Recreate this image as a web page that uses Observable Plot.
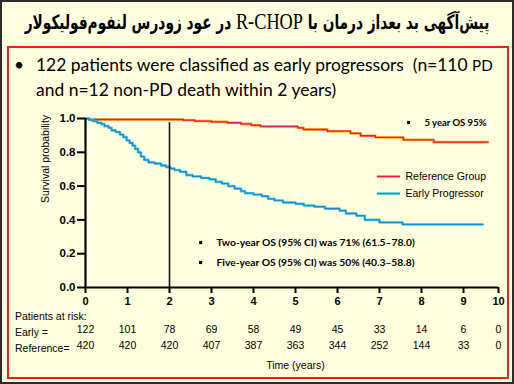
<!DOCTYPE html>
<html><head><meta charset="utf-8">
<script src="https://cdn.jsdelivr.net/npm/d3@7"></script>
<script src="https://cdn.jsdelivr.net/npm/@observablehq/plot@0.6"></script>
<style>
body{margin:0;background:#fff}
#page{position:relative;width:514px;height:384px;background:#ffffdf;overflow:hidden;font-family:"Liberation Sans",Arial,sans-serif;color:#000}
#outer{position:absolute;left:0;top:0;width:514px;height:384px;box-sizing:border-box;border:2px solid #2b2b2b;z-index:3;pointer-events:none}
#redbox{position:absolute;left:7px;top:46px;width:502px;height:333px;box-sizing:border-box;border:2px solid #e8231d;z-index:3;pointer-events:none}
#title{position:absolute;left:0;top:6px;width:514px;text-align:center;line-height:32px;white-space:nowrap}
#titletext{display:inline-block;direction:rtl;font-family:"DejaVu Sans Condensed","DejaVu Sans",sans-serif;font-weight:bold;font-size:16px;white-space:nowrap;transform:scaleY(1.3);transform-origin:50% 55%}
#titletext .lat{font-family:"Liberation Serif","Times New Roman",serif;font-weight:normal;font-size:1.2em}
.bul{position:absolute;font-family:Lato,"Open Sans",sans-serif;font-size:19px;white-space:nowrap;line-height:24px}
.lab{position:absolute;font-size:10.5px;white-space:nowrap;line-height:12px}
#chart{position:absolute;left:0;top:0}
</style></head>
<body>
<div id="page">
  <div id="title"><span id="titletext">پیش‌آگهی بد بعداز درمان با <span class="lat">R-CHOP</span> در عود زودرس لنفوم‌فولیکولار</span></div>
  <div class="bul" id="dot" style="left:14px;top:53px">•</div>
  <div class="bul" id="line1" style="left:36px;top:53px">122 patients were classified as early progressors&nbsp; (n=110 <span style="font-size:0.87em">PD</span></div>
  <div class="bul" id="line2" style="left:36px;top:78px">and n=12 non-PD death within 2 years)</div>
  <div id="chart"></div>
  <div class="lab" style="left:15px;top:310px">Patients at risk:</div>
  <div class="lab" style="left:15px;top:326px">Early =</div>
  <div class="lab" style="left:15px;top:342px">Reference=</div>
  <div id="redbox"></div>
  <div id="outer"></div>
</div>
<script>
// ---- data ----
const years = [0, 1, 2, 3, 4, 5, 6, 7, 8, 9, 10];
const earlyAtRisk = [122, 101, 78, 69, 58, 49, 45, 33, 14, 6, 0];
const refAtRisk = [420, 420, 420, 407, 387, 363, 344, 252, 144, 33, 0];
const yTicks = [0, 0.2, 0.4, 0.6, 0.8, 1.0];

const earlyTime = [0, 0.08, 0.18, 0.28, 0.38, 0.45, 0.55, 0.62, 0.72, 0.82, 0.9, 0.98, 1.05, 1.12, 1.18, 1.25, 1.32, 1.4, 1.5, 1.65, 1.8, 1.92, 2.02, 2.12, 2.25, 2.4, 2.55, 2.75, 2.95, 3.1, 3.25, 3.4, 3.55, 3.7, 3.8, 4.0, 4.2, 4.35, 4.5, 4.7, 5.0, 5.2, 5.45, 5.7, 6.05, 6.2, 6.45, 6.65, 7.0, 7.55, 9.55];
const earlySurv = [1.0, 0.992, 0.984, 0.975, 0.967, 0.955, 0.945, 0.93, 0.92, 0.905, 0.89, 0.87, 0.855, 0.84, 0.82, 0.8, 0.775, 0.755, 0.74, 0.733, 0.722, 0.712, 0.704, 0.695, 0.685, 0.665, 0.657, 0.648, 0.64, 0.625, 0.615, 0.6, 0.585, 0.57, 0.558, 0.55, 0.54, 0.525, 0.515, 0.503, 0.495, 0.485, 0.478, 0.467, 0.455, 0.438, 0.425, 0.4, 0.385, 0.373, 0.373];

const refTime = [0, 0.1, 2.33, 2.6, 3.0, 3.38, 3.7, 3.95, 4.17, 5.05, 5.19, 5.76, 6.31, 6.55, 6.9, 7.57, 8.29, 9.7];
const refSurv = [1.0, 0.994, 0.99, 0.985, 0.98, 0.975, 0.968, 0.96, 0.953, 0.945, 0.935, 0.925, 0.912, 0.898, 0.888, 0.874, 0.86, 0.86];

const seriesNames = ["Reference Group", "Early Progressor"];
const noteTop = "5 year OS 95%";
const notesBottom = ["Two-year OS (95% CI) was 71% (61.5–78.0)", "Five-year OS (95% CI) was 50% (40.3–58.8)"];

// ---- fit header texts to the reference widths ----
function fitWidth(el, target) {
  const w = el.getBoundingClientRect().width;
  const fs = parseFloat(getComputedStyle(el).fontSize);
  const nfs = fs * target / w;
  el.style.fontSize = nfs + "px";
  return nfs;
}
fitWidth(document.getElementById("titletext"), 465);
const bfs = fitWidth(document.getElementById("line1"), 457);
document.getElementById("line2").style.fontSize = bfs + "px";
document.getElementById("dot").style.fontSize = bfs + "px";

// ---- build ----
const early = earlyTime.map((t, i) => ({t, s: earlySurv[i]}));
const ref = refTime.map((t, i) => ({t, s: refSurv[i]}));

const refOuter = "#ffa31f", refInner = "#f0183c";
const earOuter = "#48d6e2", earInner = "#1f86d2";

const legend = [
  {x1: 6.95, x2: 7.5, y: 0.657, name: seriesNames[0], o: refOuter, c: refInner},
  {x1: 6.95, x2: 7.5, y: 0.556, name: seriesNames[1], o: earOuter, c: earInner}
];
const notes = [
  {x: 7.69, tx: 8.07, y: 0.976, text: noteTop, fs: 9.5},
  {x: 2.74, tx: 3.12, y: 0.266, text: notesBottom[0], fs: 10.3},
  {x: 2.74, tx: 3.12, y: 0.148, text: notesBottom[1], fs: 10.3}
];

const chart = Plot.plot({
  width: 514, height: 384,
  marginLeft: 85, marginRight: 16, marginTop: 118, marginBottom: 97,
  x: {type: "linear", domain: [0, 9, 10], range: [85, 463, 498]},
  y: {domain: [0, 1]},
  style: {background: "transparent", fontFamily: "'Liberation Sans', Arial, sans-serif", color: "#000", overflow: "visible"},
  marks: [
    Plot.line(ref, {x: "t", y: "s", curve: "step-after", stroke: refOuter, strokeWidth: 2.6}),
    Plot.line(ref, {x: "t", y: "s", curve: "step-after", stroke: refInner, strokeWidth: 1.3}),
    Plot.line(early, {x: "t", y: "s", curve: "step-after", stroke: earOuter, strokeWidth: 2.6}),
    Plot.line(early, {x: "t", y: "s", curve: "step-after", stroke: earInner, strokeWidth: 1.3}),
    Plot.ruleX([2], {y1: 0, y2: 0.975, stroke: "#111", strokeWidth: 1.6}),
    Plot.axisY(yTicks, {tickSize: 8, tickPadding: 2, tickFormat: d => d.toFixed(1), fontSize: 11.5, fontWeight: "bold", strokeWidth: 2, label: null}),
    Plot.axisX(years, {tickSize: 6, tickPadding: 4, fontSize: 11, fontWeight: "bold", strokeWidth: 2, label: null}),
    Plot.ruleX([0], {y1: 0, y2: 1, stroke: "#000", strokeWidth: 2.2}),
    Plot.ruleY([0], {x1: 0, x2: 10, stroke: "#000", strokeWidth: 2.2}),
    Plot.text(["Survival probability"], {frameAnchor: "left", rotate: -90, dx: -40, fontSize: 10.5}),
    // legend
    Plot.ruleY(legend, {x1: "x1", x2: "x2", y: "y", stroke: "o", strokeWidth: 2.6}),
    Plot.ruleY(legend, {x1: "x1", x2: "x2", y: "y", stroke: "c", strokeWidth: 1.2}),
    Plot.text(legend, {x: d => d.x2, y: "y", text: "name", textAnchor: "start", dx: 5, fontSize: 10.5}),
    // notes
    Plot.dot(notes, {x: "x", y: "y", symbol: "square", r: 1.8, fill: "#000", stroke: null}),
    Plot.text(notes, {x: "tx", y: "y", text: "text", textAnchor: "start", fontFamily: "Lato, sans-serif", fontWeight: "bold", fontSize: "fs"}),
    // patients at risk
    Plot.text(years, {x: d => d, text: (d, i) => String(earlyAtRisk[i]), frameAnchor: "bottom", dy: 45, fontSize: 10.5}),
    Plot.text(years, {x: d => d, text: (d, i) => String(refAtRisk[i]), frameAnchor: "bottom", dy: 61, fontSize: 10.5}),
    Plot.text(["Time (years)"], {x: 5, frameAnchor: "bottom", dy: 81, fontSize: 10.5})
  ]
});
document.getElementById("chart").appendChild(chart);
</script>
</body></html>
